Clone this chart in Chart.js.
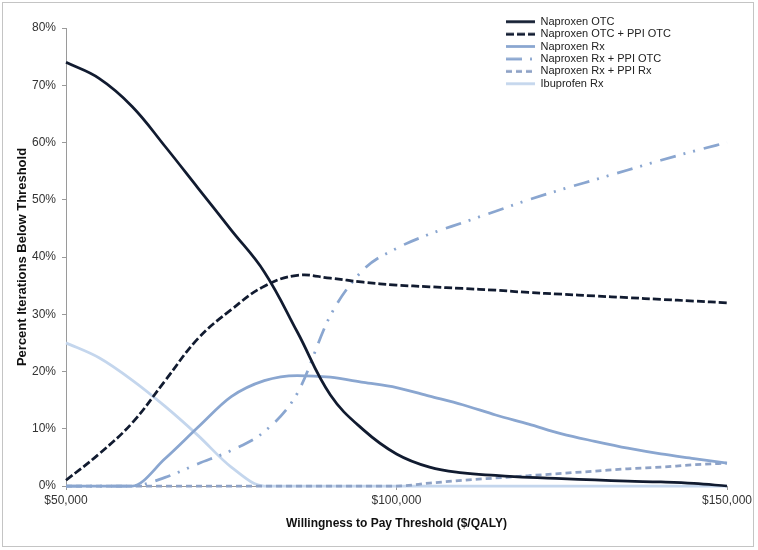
<!DOCTYPE html>
<html>
<head>
<meta charset="utf-8">
<script src="https://cdn.jsdelivr.net/npm/chart.js@4.4.1/dist/chart.umd.min.js"></script>
<style>
  html, body { margin: 0; padding: 0; background: #fff; }
  #wrap { position: relative; width: 758px; height: 550px; }
  #frame { position: absolute; left: 2px; top: 2px; width: 750px; height: 543px; border: 1px solid #c4c4c4; pointer-events: none; }
  canvas { position: absolute; left: 0; top: 0; }
</style>
</head>
<body>
<div id="wrap">
  <canvas id="chart" width="758" height="550"></canvas>
  <div id="frame"></div>
</div>
<script>
// willingness to pay thresholds ($/QALY)
const thresholds = [
  50000, 55000, 60000, 65000, 70000, 75000, 80000, 85000, 90000, 95000, 100000,
  105000, 110000, 115000, 120000, 125000, 130000, 135000, 140000, 145000, 150000,
];
const xTickValues = [50000, 100000, 150000];
const xTickLabels = ["$50,000", "$100,000", "$150,000"];

// percent of iterations below threshold
const naproxenOtc = [74, 71.2, 66.3, 59.3, 52.0, 44.7, 37.4, 26.9, 15.9, 9.8, 5.6, 3.3, 2.3, 1.85, 1.5, 1.3, 1.05, 0.85, 0.7, 0.45, 0];
const naproxenOtcPpiOtc = [1, 5.6, 11.0, 18.4, 25.8, 30.8, 34.9, 36.8, 36.3, 35.6, 35.1, 34.8, 34.5, 34.2, 33.8, 33.5, 33.2, 32.9, 32.6, 32.3, 32];
const naproxenRx = [0, 0, 0, 4.8, 10.3, 15.6, 18.4, 19.3, 19.0, 18.1, 17.2, 15.7, 14.2, 12.4, 10.8, 9.1, 7.8, 6.6, 5.6, 4.8, 4.0];
const naproxenRxPpiOtc = [0, 0, 0, 1.5, 3.9, 6.2, 9.5, 16.2, 29.8, 37.8, 41.5, 44, 46, 48, 50, 51.8, 53.5, 55.2, 56.9, 58.5, 60];
const naproxenRxPpiRx = [0, 0, 0, 0, 0, 0, 0, 0, 0, 0, 0, 0.5, 1.0, 1.4, 1.8, 2.2, 2.6, 3.0, 3.3, 3.7, 4.0];
const ibuprofenRx = [25, 22.4, 18.5, 13.9, 8.8, 3.3, 0, 0, 0, 0, 0, 0, 0, 0, 0, 0, 0, 0, 0, 0, 0];

const seriesNames = [
  "Naproxen OTC",
  "Naproxen OTC + PPI OTC",
  "Naproxen Rx",
  "Naproxen Rx + PPI OTC",
  "Naproxen Rx + PPI Rx",
  "Ibuprofen Rx",
];
const seriesValues = [naproxenOtc, naproxenOtcPpiOtc, naproxenRx, naproxenRxPpiOtc, naproxenRxPpiRx, ibuprofenRx];
const seriesColors = ["#111b30", "#111b30", "#8aa6d0", "#8aa6d0", "#8ea2c6", "#c4d6ed"];
const seriesDashes = [[], [8, 3], [], [16, 8, 2, 8, 2, 9], [6, 4], []];
// the two dark curves have no flat runs, so plain bezier smoothing suits them
const seriesSmooth = ["default", "default", "monotone", "monotone", "monotone", "monotone"];

const FONT = "'Liberation Sans', Arial, sans-serif";
const LINE_W = 2.75;
const SWATCH_W = 29;

// small line sample used as the legend symbol (keeps the dash pattern)
function lineSwatch(color, dash) {
  const c = document.createElement("canvas");
  c.width = SWATCH_W;
  c.height = 5;
  const g = c.getContext("2d");
  g.strokeStyle = color;
  g.lineWidth = LINE_W;
  g.setLineDash(dash);
  g.beginPath();
  g.moveTo(0, 2.5);
  g.lineTo(SWATCH_W, 2.5);
  g.stroke();
  return c;
}

const datasets = seriesNames.map((name, i) => ({
  label: name,
  data: thresholds.map((t, j) => ({ x: t, y: seriesValues[i][j] })),
  borderColor: seriesColors[i],
  backgroundColor: seriesColors[i],
  borderDash: seriesDashes[i],
  borderWidth: LINE_W,
  pointRadius: 0,
  pointStyle: lineSwatch(seriesColors[i], seriesDashes[i]),
  cubicInterpolationMode: seriesSmooth[i],
  tension: 0.4,
  clip: false,
}));

// move the legend into the top-right corner of the plot
const legendPlacer = {
  id: "legendPlacer",
  afterLayout(chart) {
    const lg = chart.legend;
    if (!lg) return;
    const w = lg.width, h = lg.height;
    lg.left = 504.6;
    lg.right = lg.left + w;
    lg.top = 14.8;
    lg.bottom = lg.top + h;
  },
};

const ctx = document.getElementById("chart").getContext("2d");
const chart = new Chart(ctx, {
  type: "line",
  data: { datasets: datasets },
  plugins: [legendPlacer],
  options: {
    responsive: false,
    animation: false,
    layout: { padding: { left: 0, right: 31, top: 28, bottom: 0 } },
    plugins: {
      tooltip: { enabled: false },
      legend: {
        position: "chartArea",
        align: "start",
        labels: {
          usePointStyle: true,
          pointStyleWidth: SWATCH_W,
          boxHeight: 11,
          padding: 1.4,
          color: "#222",
          font: { family: FONT, size: 11 },
        },
      },
    },
    scales: {
      x: {
        type: "linear",
        min: 50000,
        max: 150000,
        afterBuildTicks: (axis) => {
          axis.ticks = xTickValues.map((v) => ({ value: v }));
        },
        afterFit: (axis) => {
          axis.height = 64;
        },
        grid: {
          drawOnChartArea: false,
          drawTicks: true,
          tickLength: 4,
          color: "#9a9a9a",
        },
        border: { color: "#9a9a9a" },
        ticks: {
          padding: 3,
          maxRotation: 0,
          color: "#333",
          font: { family: FONT, size: 12 },
          callback: (v) => xTickLabels[xTickValues.indexOf(v)],
        },
        title: {
          display: true,
          text: "Willingness to Pay Threshold ($/QALY)",
          color: "#111",
          font: { family: FONT, size: 12, weight: "bold" },
          padding: { top: 0, bottom: 18.8 },
        },
      },
      y: {
        min: 0,
        max: 80,
        afterFit: (axis) => {
          axis.width = 66;
        },
        grid: {
          drawOnChartArea: false,
          drawTicks: true,
          tickLength: 4,
          color: "#9a9a9a",
        },
        border: { color: "#9a9a9a" },
        ticks: {
          stepSize: 10,
          padding: 6,
          color: "#333",
          font: { family: FONT, size: 12 },
          callback: (v) => v + "%",
        },
        title: {
          display: true,
          text: "Percent Iterations Below Threshold",
          color: "#111",
          font: { family: FONT, size: 13, weight: "bold" },
          padding: { top: 14.5, bottom: 0 },
        },
      },
    },
  },
});
</script>
</body>
</html>
